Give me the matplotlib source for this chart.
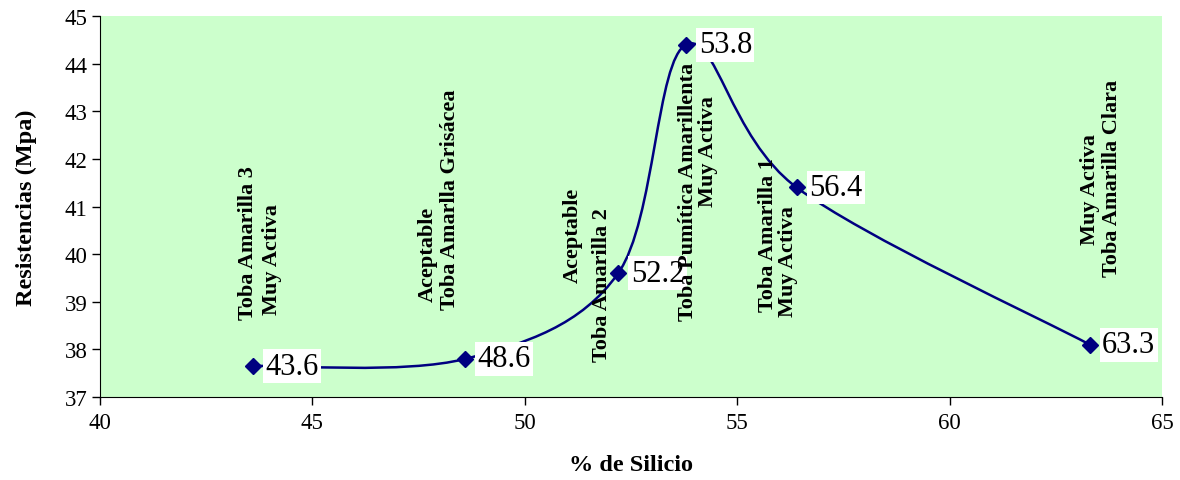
import matplotlib
matplotlib.use("Agg")
import numpy as np
from matplotlib import pyplot as plt
from matplotlib.path import Path
from matplotlib.patches import PathPatch

plt.rcParams['font.family'] = ['Liberation Serif', 'DejaVu Serif']

# datos
silicio = [43.6, 48.6, 52.2, 53.8, 56.4, 63.3]
resistencia = [37.65, 37.8, 39.6, 44.4, 41.4, 38.1]
etiquetas = ["43.6", "48.6", "52.2", "53.8", "56.4", "63.3"]

# textos de cada muestra (una entrada por linea, girada 90 grados)
lineas_texto = [
    "Toba Amarilla 3", "Muy Activa",
    "Aceptable", "Toba Amarlla Grisácea",
    "Aceptable", "Toba Amarilla 2",
    "Toba Pumítica Amarillenta", "Muy Activa",
    "Toba Amarilla 1", "Muy Activa",
    "Muy Activa", "Toba Amarilla Clara",
]
lineas_x = [43.48, 44.05, 47.72, 48.24, 51.13, 51.82, 53.84, 54.31, 55.72, 56.20, 63.30, 63.82]
lineas_y = [40.25, 39.90, 40.02, 41.16, 40.42, 39.37, 41.33, 42.17, 40.42, 39.86, 41.37, 41.62]

azul = '#000080'

fig = plt.figure(figsize=(11.8, 4.81), dpi=100)
ax = fig.add_axes([0.0847, 0.1726, 0.9, 0.792])
ax.set_facecolor('#CCFFCC')

# curva suavizada tipo Excel (Bezier con control de Catmull-Rom)
p = np.column_stack([silicio, resistencia])
verts = [tuple(p[0])]
codes = [Path.MOVETO]
n = len(p)
for i in range(n - 1):
    p0 = p[i - 1] if i > 0 else p[i]
    p3 = p[i + 2] if i + 2 < n else p[i + 1]
    c1 = p[i] + (p[i + 1] - p0) / 6
    c2 = p[i + 1] - (p3 - p[i]) / 6
    verts += [tuple(c1), tuple(c2), tuple(p[i + 1])]
    codes += [Path.CURVE4] * 3
ax.add_patch(PathPatch(Path(verts, codes), fill=False, edgecolor=azul, lw=1.8, zorder=3))

ax.plot(silicio, resistencia, linestyle='none', marker='D', markersize=8,
        color=azul, zorder=4)

for x, y, t in zip(silicio, resistencia, etiquetas):
    ax.annotate(t, (x, y), xytext=(9, 0), textcoords='offset points',
                ha='left', va='center', fontsize=22, zorder=5,
                bbox=dict(boxstyle='square,pad=0.08', fc='white', ec='none'))

# los textos girados quedan por encima de las etiquetas (como en el original)
for t, x, y in zip(lineas_texto, lineas_x, lineas_y):
    ax.text(x, y, t, rotation=90, ha='center', va='center',
            fontsize=16, fontweight='bold', zorder=6)

ax.set_xlim(40, 65)
ax.set_ylim(37, 45)
ax.set_xticks(range(40, 66, 5))
ax.set_yticks(range(37, 46))
ax.tick_params(labelsize=16.5, direction='out', length=6, width=1)
ax.tick_params(axis='x', pad=5)
ax.tick_params(axis='y', pad=3)
ax.spines['top'].set_visible(False)
ax.spines['right'].set_visible(False)

ax.set_xlabel("% de Silicio", fontsize=17.5, fontweight='bold')
ax.set_ylabel("Resistencias (Mpa)", fontsize=17.5, fontweight='bold')
ax.xaxis.set_label_coords(0.5, -0.15)
ax.yaxis.set_label_coords(-0.059, 0.5)

plt.savefig("out.png", dpi=100)
